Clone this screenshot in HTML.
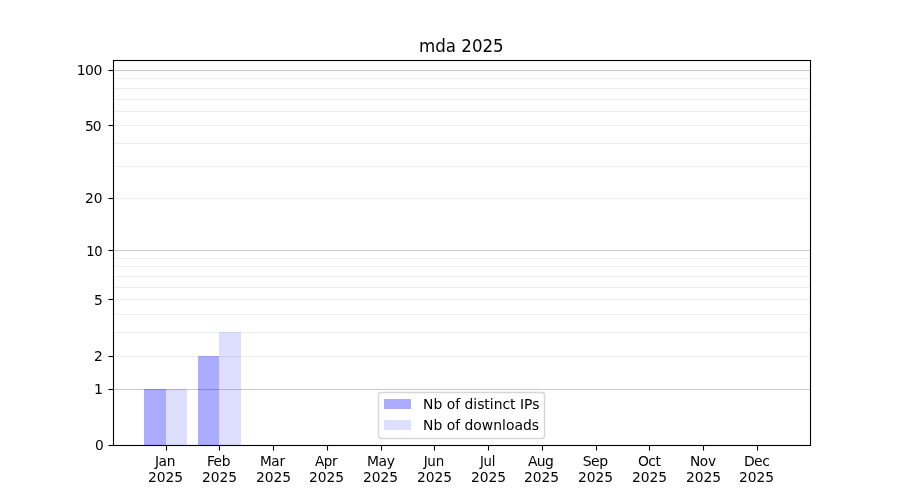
<!DOCTYPE html>
<html lang="en">
<head>
<meta charset="utf-8">
<title>mda 2025</title>
<style>
html,body{margin:0;padding:0;background:#fff;}
body{width:900px;height:500px;overflow:hidden;}
svg{display:block;}
text{font-family:"DejaVu Sans","Liberation Sans",sans-serif;fill:#000;}
.t{font-size:13.889px;}
.ti{font-size:16.667px;}
.c{text-anchor:middle;}
.e{text-anchor:end;}
</style>
</head>
<body>
<svg width="900" height="500" viewBox="0 0 900 500">
<rect width="900" height="500" fill="#fff"/>
<g shape-rendering="crispEdges">
<!-- bars -->
<rect x="144" y="389" width="22" height="57" fill="#00f" fill-opacity=".33"/>
<rect x="166" y="389" width="21" height="57" fill="#00f" fill-opacity=".13"/>
<rect x="198" y="356" width="21" height="90" fill="#00f" fill-opacity=".33"/>
<rect x="219" y="332" width="22" height="114" fill="#00f" fill-opacity=".13"/>
<!-- grid -->
<rect x="113" y="356" width="698" height="1" fill="#000" fill-opacity=".07"/>
<rect x="113" y="332" width="698" height="1" fill="#000" fill-opacity=".07"/>
<rect x="113" y="314" width="698" height="1" fill="#000" fill-opacity=".07"/>
<rect x="113" y="299" width="698" height="1" fill="#000" fill-opacity=".07"/>
<rect x="113" y="287" width="698" height="1" fill="#000" fill-opacity=".07"/>
<rect x="113" y="276" width="698" height="1" fill="#000" fill-opacity=".07"/>
<rect x="113" y="266" width="698" height="1" fill="#000" fill-opacity=".07"/>
<rect x="113" y="258" width="698" height="1" fill="#000" fill-opacity=".07"/>
<rect x="113" y="198" width="698" height="1" fill="#000" fill-opacity=".07"/>
<rect x="113" y="166" width="698" height="1" fill="#000" fill-opacity=".07"/>
<rect x="113" y="143" width="698" height="1" fill="#000" fill-opacity=".07"/>
<rect x="113" y="125" width="698" height="1" fill="#000" fill-opacity=".07"/>
<rect x="113" y="111" width="698" height="1" fill="#000" fill-opacity=".07"/>
<rect x="113" y="99" width="698" height="1" fill="#000" fill-opacity=".07"/>
<rect x="113" y="88" width="698" height="1" fill="#000" fill-opacity=".07"/>
<rect x="113" y="78" width="698" height="1" fill="#000" fill-opacity=".07"/>
<rect x="113" y="388" width="698" height="3" fill="#000" fill-opacity=".011"/>
<rect x="113" y="389" width="698" height="1" fill="#000" fill-opacity=".19"/>
<rect x="113" y="249" width="698" height="3" fill="#000" fill-opacity=".011"/>
<rect x="113" y="250" width="698" height="1" fill="#000" fill-opacity=".19"/>
<rect x="113" y="69" width="698" height="3" fill="#000" fill-opacity=".011"/>
<rect x="113" y="70" width="698" height="1" fill="#000" fill-opacity=".19"/>
<!-- ticks -->
<rect x="165" y="446" width="3" height="4" fill="#000" fill-opacity=".055"/><rect x="165" y="450" width="3" height="1" fill="#000" fill-opacity=".027"/><rect x="166" y="446" width="1" height="4" fill="#000"/><rect x="166" y="450" width="1" height="1" fill="#000" fill-opacity=".5"/>
<rect x="218" y="446" width="3" height="4" fill="#000" fill-opacity=".055"/><rect x="218" y="450" width="3" height="1" fill="#000" fill-opacity=".027"/><rect x="219" y="446" width="1" height="4" fill="#000"/><rect x="219" y="450" width="1" height="1" fill="#000" fill-opacity=".5"/>
<rect x="272" y="446" width="3" height="4" fill="#000" fill-opacity=".055"/><rect x="272" y="450" width="3" height="1" fill="#000" fill-opacity=".027"/><rect x="273" y="446" width="1" height="4" fill="#000"/><rect x="273" y="450" width="1" height="1" fill="#000" fill-opacity=".5"/>
<rect x="326" y="446" width="3" height="4" fill="#000" fill-opacity=".055"/><rect x="326" y="450" width="3" height="1" fill="#000" fill-opacity=".027"/><rect x="327" y="446" width="1" height="4" fill="#000"/><rect x="327" y="450" width="1" height="1" fill="#000" fill-opacity=".5"/>
<rect x="380" y="446" width="3" height="4" fill="#000" fill-opacity=".055"/><rect x="380" y="450" width="3" height="1" fill="#000" fill-opacity=".027"/><rect x="381" y="446" width="1" height="4" fill="#000"/><rect x="381" y="450" width="1" height="1" fill="#000" fill-opacity=".5"/>
<rect x="433" y="446" width="3" height="4" fill="#000" fill-opacity=".055"/><rect x="433" y="450" width="3" height="1" fill="#000" fill-opacity=".027"/><rect x="434" y="446" width="1" height="4" fill="#000"/><rect x="434" y="450" width="1" height="1" fill="#000" fill-opacity=".5"/>
<rect x="487" y="446" width="3" height="4" fill="#000" fill-opacity=".055"/><rect x="487" y="450" width="3" height="1" fill="#000" fill-opacity=".027"/><rect x="488" y="446" width="1" height="4" fill="#000"/><rect x="488" y="450" width="1" height="1" fill="#000" fill-opacity=".5"/>
<rect x="541" y="446" width="3" height="4" fill="#000" fill-opacity=".055"/><rect x="541" y="450" width="3" height="1" fill="#000" fill-opacity=".027"/><rect x="542" y="446" width="1" height="4" fill="#000"/><rect x="542" y="450" width="1" height="1" fill="#000" fill-opacity=".5"/>
<rect x="595" y="446" width="3" height="4" fill="#000" fill-opacity=".055"/><rect x="595" y="450" width="3" height="1" fill="#000" fill-opacity=".027"/><rect x="596" y="446" width="1" height="4" fill="#000"/><rect x="596" y="450" width="1" height="1" fill="#000" fill-opacity=".5"/>
<rect x="648" y="446" width="3" height="4" fill="#000" fill-opacity=".055"/><rect x="648" y="450" width="3" height="1" fill="#000" fill-opacity=".027"/><rect x="649" y="446" width="1" height="4" fill="#000"/><rect x="649" y="450" width="1" height="1" fill="#000" fill-opacity=".5"/>
<rect x="702" y="446" width="3" height="4" fill="#000" fill-opacity=".055"/><rect x="702" y="450" width="3" height="1" fill="#000" fill-opacity=".027"/><rect x="703" y="446" width="1" height="4" fill="#000"/><rect x="703" y="450" width="1" height="1" fill="#000" fill-opacity=".5"/>
<rect x="756" y="446" width="3" height="4" fill="#000" fill-opacity=".055"/><rect x="756" y="450" width="3" height="1" fill="#000" fill-opacity=".027"/><rect x="757" y="446" width="1" height="4" fill="#000"/><rect x="757" y="450" width="1" height="1" fill="#000" fill-opacity=".5"/>
<rect x="109" y="444" width="4" height="3" fill="#000" fill-opacity=".055"/><rect x="108" y="444" width="1" height="3" fill="#000" fill-opacity=".027"/><rect x="109" y="445" width="4" height="1" fill="#000"/><rect x="108" y="445" width="1" height="1" fill="#000" fill-opacity=".5"/>
<rect x="109" y="388" width="4" height="3" fill="#000" fill-opacity=".055"/><rect x="108" y="388" width="1" height="3" fill="#000" fill-opacity=".027"/><rect x="109" y="389" width="4" height="1" fill="#000"/><rect x="108" y="389" width="1" height="1" fill="#000" fill-opacity=".5"/>
<rect x="109" y="355" width="4" height="3" fill="#000" fill-opacity=".055"/><rect x="108" y="355" width="1" height="3" fill="#000" fill-opacity=".027"/><rect x="109" y="356" width="4" height="1" fill="#000"/><rect x="108" y="356" width="1" height="1" fill="#000" fill-opacity=".5"/>
<rect x="109" y="298" width="4" height="3" fill="#000" fill-opacity=".055"/><rect x="108" y="298" width="1" height="3" fill="#000" fill-opacity=".027"/><rect x="109" y="299" width="4" height="1" fill="#000"/><rect x="108" y="299" width="1" height="1" fill="#000" fill-opacity=".5"/>
<rect x="109" y="249" width="4" height="3" fill="#000" fill-opacity=".055"/><rect x="108" y="249" width="1" height="3" fill="#000" fill-opacity=".027"/><rect x="109" y="250" width="4" height="1" fill="#000"/><rect x="108" y="250" width="1" height="1" fill="#000" fill-opacity=".5"/>
<rect x="109" y="197" width="4" height="3" fill="#000" fill-opacity=".055"/><rect x="108" y="197" width="1" height="3" fill="#000" fill-opacity=".027"/><rect x="109" y="198" width="4" height="1" fill="#000"/><rect x="108" y="198" width="1" height="1" fill="#000" fill-opacity=".5"/>
<rect x="109" y="124" width="4" height="3" fill="#000" fill-opacity=".055"/><rect x="108" y="124" width="1" height="3" fill="#000" fill-opacity=".027"/><rect x="109" y="125" width="4" height="1" fill="#000"/><rect x="108" y="125" width="1" height="1" fill="#000" fill-opacity=".5"/>
<rect x="109" y="69" width="4" height="3" fill="#000" fill-opacity=".055"/><rect x="108" y="69" width="1" height="3" fill="#000" fill-opacity=".027"/><rect x="109" y="70" width="4" height="1" fill="#000"/><rect x="108" y="70" width="1" height="1" fill="#000" fill-opacity=".5"/>
<!-- spines -->
<rect x="113" y="59" width="698" height="3" fill="#000" fill-opacity=".055"/>
<rect x="113" y="444" width="698" height="3" fill="#000" fill-opacity=".055"/>
<rect x="113" y="444" width="698" height="1" fill="#000" fill-opacity=".011"/>
<rect x="112" y="60" width="3" height="386" fill="#000" fill-opacity=".055"/>
<rect x="809" y="60" width="3" height="386" fill="#000" fill-opacity=".055"/>
<rect x="113" y="60" width="698" height="1" fill="#000"/>
<rect x="113" y="445" width="698" height="1" fill="#000"/>
<rect x="113" y="60" width="1" height="386" fill="#000"/>
<rect x="810" y="60" width="1" height="386" fill="#000"/>
</g>
<!-- x tick labels -->
<text class="t c" x="165.00" y="465.50" letter-spacing="-0.350" style="font-size:13.789px">Jan</text><text class="t c" x="165.50" y="481.50" letter-spacing="-0.050" style="font-size:13.839px">2025</text>
<text class="t c" x="218.44" y="465.50" letter-spacing="-0.430" style="font-size:13.789px">Feb</text><text class="t c" x="219.44" y="481.50" letter-spacing="-0.060" style="font-size:13.839px">2025</text>
<text class="t c" x="272.32" y="465.50" letter-spacing="-0.280" style="font-size:13.639px">Mar</text><text class="t c" x="273.47" y="481.50" letter-spacing="-0.080" style="font-size:13.839px">2025</text>
<text class="t c" x="326.01" y="465.50" letter-spacing="-0.400" style="font-size:13.539px">Apr</text><text class="t c" x="326.51" y="481.50" letter-spacing="-0.060" style="font-size:13.839px">2025</text>
<text class="t c" x="380.84" y="465.50" letter-spacing="-0.320">May</text><text class="t c" x="380.44" y="481.50" letter-spacing="-0.060" style="font-size:13.839px">2025</text>
<text class="t c" x="433.78" y="465.50" letter-spacing="-0.250" style="font-size:13.489px">Jun</text><text class="t c" x="434.48" y="481.50" letter-spacing="-0.080" style="font-size:13.839px">2025</text>
<text class="t c" x="487.52" y="465.50" letter-spacing="-0.320" style="font-size:13.189px">Jul</text><text class="t c" x="488.52" y="481.50" letter-spacing="-0.060" style="font-size:13.839px">2025</text>
<text class="t c" x="540.65" y="465.50" letter-spacing="-0.550">Aug</text><text class="t c" x="541.45" y="481.50" letter-spacing="-0.050" style="font-size:13.839px">2025</text>
<text class="t c" x="595.09" y="465.50" letter-spacing="-0.500" style="font-size:13.989px">Sep</text><text class="t c" x="595.49" y="481.50" letter-spacing="-0.050" style="font-size:13.839px">2025</text>
<text class="t c" x="649.22" y="465.50" letter-spacing="-0.460">Oct</text><text class="t c" x="649.52" y="481.50" letter-spacing="-0.060" style="font-size:13.839px">2025</text>
<text class="t c" x="702.86" y="465.50" letter-spacing="-0.260" style="font-size:13.689px">Nov</text><text class="t c" x="703.46" y="481.50" letter-spacing="-0.080" style="font-size:13.839px">2025</text>
<text class="t c" x="756.60" y="465.50" letter-spacing="-0.580" style="font-size:13.989px">Dec</text><text class="t c" x="756.50" y="481.50" letter-spacing="-0.050" style="font-size:13.839px">2025</text>
<!-- y tick labels -->
<text class="t e" x="103.30" y="449.50" letter-spacing="-0.580" style="font-size:13.789px">0</text>
<text class="t e" x="102.40" y="393.50" letter-spacing="-0.620" style="font-size:14.039px">1</text>
<text class="t e" x="102.30" y="360.50" letter-spacing="-0.580" style="font-size:13.839px">2</text>
<text class="t e" x="102.30" y="304.50" letter-spacing="-0.640">5</text>
<text class="t e" x="102.60" y="255.50" letter-spacing="-0.160" style="font-size:13.189px">10</text>
<text class="t e" x="102.30" y="202.50" letter-spacing="-0.150" style="font-size:13.789px">20</text>
<text class="t e" x="100.80" y="130.50" letter-spacing="-0.830" style="font-size:13.789px">50</text>
<text class="t e" x="101.90" y="74.50" letter-spacing="-0.480" style="font-size:13.989px">100</text>
<text class="ti c" transform="translate(461.35 51.5) scale(1 1.08)">mda 2025</text>
<!-- legend -->
<path d="M381.28 392.5H541.72Q544.5 392.5 544.5 395.28V435.72Q544.5 438.5 541.72 438.5H381.28Q378.5 438.5 378.5 435.72V395.28Q378.5 392.5 381.28 392.5Z" fill="#fff" fill-opacity=".8" stroke="#ccc" stroke-opacity=".8" stroke-width="1.389"/>
<rect x="384" y="399" width="27" height="10" fill="#00f" fill-opacity=".33" shape-rendering="crispEdges"/>
<rect x="384" y="420" width="27" height="10" fill="#00f" fill-opacity=".13" shape-rendering="crispEdges"/>
<text class="t" x="423.10" y="408.50">Nb of distinct IPs</text>
<text class="t" x="423.00" y="429.50" letter-spacing="0.020">Nb of downloads</text>
</svg>
</body>
</html>
